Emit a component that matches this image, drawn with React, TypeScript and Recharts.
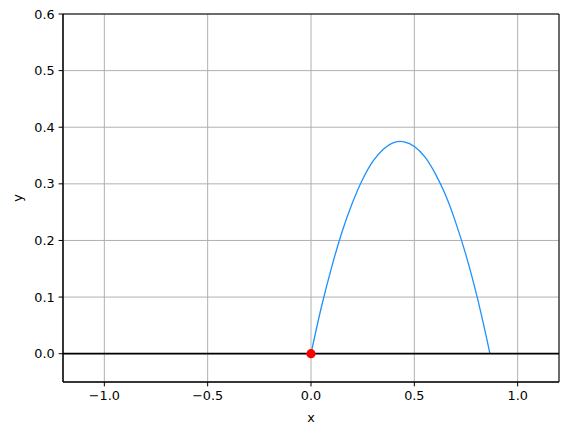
import React from "react";
import {
  ComposedChart,
  Line,
  Scatter,
  XAxis,
  YAxis,
  CartesianGrid,
  ReferenceLine,
  ReferenceArea,
} from "recharts";

const trajX = [0, 0.05, 0.1, 0.15, 0.2, 0.25, 0.3, 0.35, 0.4, 0.433, 0.45, 0.5, 0.55, 0.6, 0.65, 0.7, 0.75, 0.8, 0.85, 0.866];
const trajY = [0, 0.082, 0.153, 0.215, 0.266, 0.308, 0.34, 0.361, 0.373, 0.375, 0.374, 0.366, 0.348, 0.319, 0.281, 0.232, 0.174, 0.106, 0.027, 0];
const startPoint = [{ x: 0, y: 0 }];
const xTicks = [-1.0, -0.5, 0.0, 0.5, 1.0];
const yTicks = [0.0, 0.1, 0.2, 0.3, 0.4, 0.5, 0.6];
const xDomain = [-1.2, 1.2];
const yDomain = [-0.05, 0.6];

const trajData = trajX.map((x, i) => ({ x, y: trajY[i] }));

const FONT = "DejaVu Sans, sans-serif";
const FS = 12.8;
const fmt = (v: number) => {
  const s = v.toFixed(1);
  return s.startsWith("-") ? "\u2212" + s.slice(1) : s;
};

export default function App() {
  return (
    <div style={{ position: "absolute", left: 0, top: 0, width: 569, height: 432, background: "#fff" }}>
      <ComposedChart
        width={569}
        height={432}
        margin={{ top: 14, right: 10, bottom: 0, left: 0 }}
        style={{ fontFamily: FONT }}
      >
        <CartesianGrid stroke="#b0b0b0" strokeWidth={1} />
        <XAxis
          dataKey="x"
          type="number"
          domain={xDomain}
          ticks={xTicks}
          tickFormatter={fmt}
          allowDataOverflow
          height={50}
          tickSize={4.4}
          tickMargin={5}
          stroke="#000"
          tick={{ fill: "#000", fontSize: FS, fontFamily: FONT }}
          axisLine={{ stroke: "#000" }}
          tickLine={{ stroke: "#000" }}
          label={(props: any) => {
            const vb = props.viewBox;
            return (
              <text x={vb.x + vb.width / 2} y={422} textAnchor="middle" fontSize={FS} fontFamily={FONT} fill="#000">
                x
              </text>
            );
          }}
        />
        <YAxis
          dataKey="y"
          type="number"
          domain={yDomain}
          ticks={yTicks}
          tickFormatter={fmt}
          allowDataOverflow
          width={63}
          tickSize={4.4}
          tickMargin={4}
          stroke="#000"
          tick={{ fill: "#000", fontSize: FS, fontFamily: FONT }}
          axisLine={{ stroke: "#000" }}
          tickLine={{ stroke: "#000" }}
          label={(props: any) => {
            const vb = props.viewBox;
            const cy = vb.y + vb.height / 2;
            return (
              <text
                x={22}
                y={cy}
                textAnchor="middle"
                transform={`rotate(-90, 22, ${cy})`}
                fontSize={FS}
                fontFamily={FONT}
                fill="#000"
              >
                y
              </text>
            );
          }}
        />
        <ReferenceArea x1={-1.2} x2={1.2} y1={-0.05} y2={0.6} fill="none" stroke="#000" strokeWidth={1} ifOverflow="visible" />
        <Line
          data={trajData}
          dataKey="y"
          type="monotone"
          stroke="#1e90ff"
          strokeWidth={1.3}
          dot={false}
          activeDot={false}
          isAnimationActive={false}
        />
        <ReferenceLine y={0} stroke="#000" strokeWidth={1.8} ifOverflow="visible" />
        <Scatter data={startPoint} dataKey="y" fill="#ff0000" isAnimationActive={false} shape={(p: any) => <circle cx={p.cx} cy={p.cy} r={4.6} fill="#ff0000" />} />
      </ComposedChart>
    </div>
  );
}
